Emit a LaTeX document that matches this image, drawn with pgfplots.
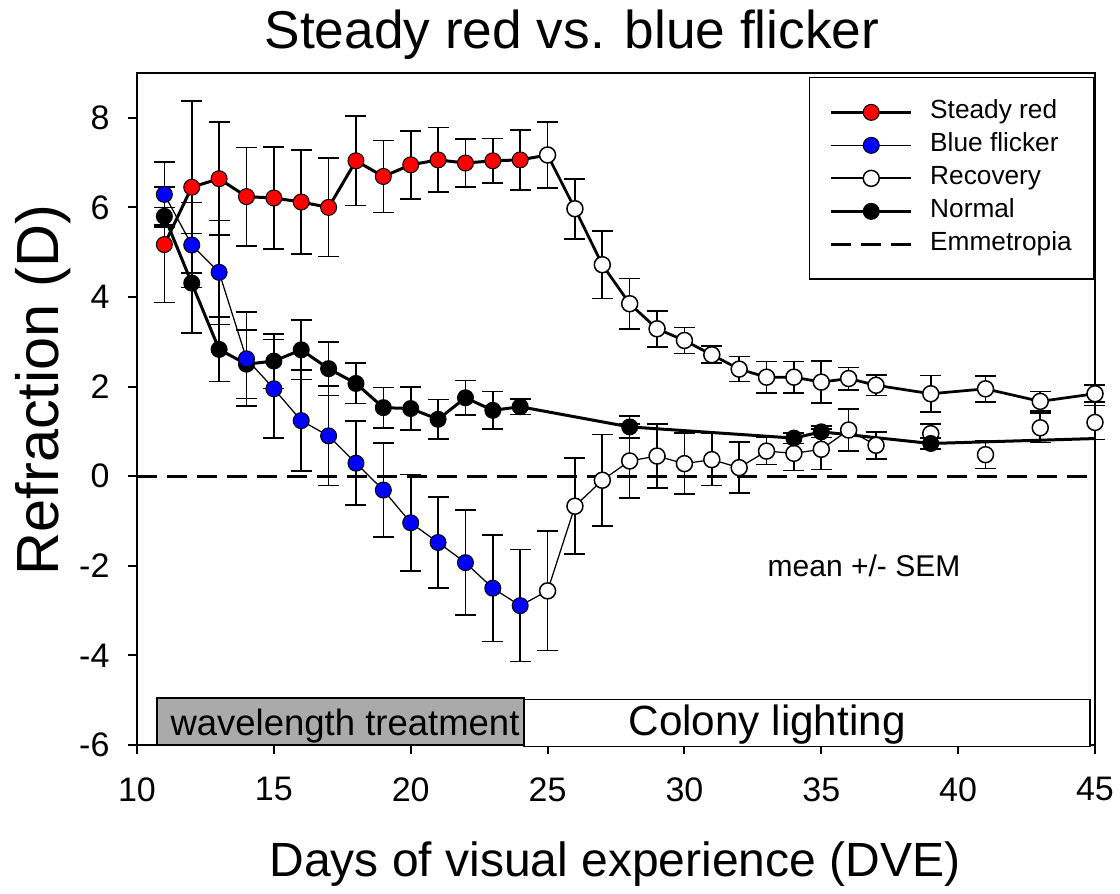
\documentclass[border=0pt]{standalone}
\usepackage{fontspec}
\setmainfont{Liberation Sans}
\usepackage{pgfplots}
\pgfplotsset{compat=1.18}
\definecolor{boxgray}{RGB}{170,170,170}
\pgfplotsset{
  eb/.style={error bars/.cd, y dir=both, y explicit, error mark=|,
    error bar style={line width=0.65pt, black, solid},
    error mark options={line width=0.65pt, black, mark size=4.2pt, solid}},
}
\begin{document}
\begin{tikzpicture}
\useasboundingbox (-54.8pt,-59.6pt) rectangle (393.2pt,298pt);
\begin{axis}[
  name=ax, at={(0,0)}, anchor=south west,
  scale only axis, width=383.2pt, height=268.8pt,
  xmin=10, xmax=45, ymin=-6, ymax=9,
  xtick={10,15,...,45}, ytick={-6,-4,...,8},
  tick align=outside, xtick pos=bottom, ytick pos=left,
  major tick length=3.6pt,
  tick style={line width=0.8pt, black},
  axis line style={line width=0.8pt},
  ticklabel style={font=\fontsize{13.6}{16}\selectfont},
  /pgf/number format/assume math mode=true,
  yticklabel style={xshift=-3.9pt},
  xticklabel style={yshift=-5.9pt},
  clip=false,
  legend cell align=left,
  legend style={at={(1,1)}, anchor=north east, yshift=-1.6pt,
    draw=black, line width=0.6pt,
    font=\fontsize{10.5}{12}\selectfont,
    inner xsep=8pt, inner ysep=8pt,
    row sep=1.5pt,
    nodes={inner sep=1pt, text height=7.5pt, text depth=2.2pt},
    /tikz/every odd column/.append style={column sep=6pt}},
  legend image code/.code={
    \draw[#1, mark repeat=2, mark phase=2] plot coordinates {(0pt,0pt) (16pt,0pt) (32pt,0pt)};
  },
]
% treatment boxes
\draw[fill=boxgray, draw=black, line width=0.5pt] (axis cs:10.73,-6) rectangle (axis cs:24.14,-4.95);
\draw[fill=white, draw=black, line width=0.5pt] (axis cs:24.14,-6.04) rectangle (axis cs:44.82,-4.99);
\node[anchor=base, font=\fontsize{14.6}{17}\selectfont] at (axis cs:17.6,-5.78) {wavelength treatment};
\node[anchor=base, font=\fontsize{16.9}{20}\selectfont] at (axis cs:33.02,-5.78) {Colony lighting};

% legend entries
\addlegendimage{black, line width=1.2pt, mark=*, mark size=3.2pt, mark options={solid, fill=red, draw=black, line width=0.4pt}}
\addlegendentry{Steady red}
\addlegendimage{black, line width=0.5pt, mark=*, mark size=3.2pt, mark options={solid, fill=blue, draw=black, line width=0.4pt}}
\addlegendentry{Blue flicker}
\addlegendimage{black, line width=0.9pt, mark=*, mark size=3.2pt, mark options={solid, fill=white, draw=black, line width=0.6pt}}
\addlegendentry{Recovery}
\addlegendimage{black, line width=1.2pt, mark=*, mark size=3.2pt, mark options={solid, fill=black, draw=black, line width=0.4pt}}
\addlegendentry{Normal}
\addlegendimage{black, line width=1.1pt, dash pattern=on 8pt off 4pt}
\addlegendentry{Emmetropia}

% emmetropia
\addplot[forget plot, black, line width=1.1pt, dash pattern=on 8pt off 4pt] coordinates {(10,0) (45,0)};

% connectors
\addplot[forget plot, black, line width=1.2pt] coordinates {(24,7.06) (25,7.17)};
\addplot[forget plot, black, line width=0.5pt] coordinates {(24,-2.89) (25,-2.56)};
\addplot[forget plot, black, line width=1.2pt] coordinates {(39,0.73) (45,0.84)};

% Recovery (after steady red)
\addplot[forget plot, black, line width=1.1pt, mark=*, mark size=3.2pt,
  mark options={solid, fill=white, draw=black, line width=0.6pt}, eb] coordinates {
(25,7.17) +- (0,0.74)
(26,5.97) +- (0,0.67)
(27,4.72) +- (0,0.75)
(28,3.85) +- (0,0.56)
(29,3.29) +- (0,0.40)
(30,3.03) +- (0,0.29)
(31,2.71) +- (0,0.19)
(32,2.39) +- (0,0.28)
(33,2.21) +- (0,0.35)
(34,2.21) +- (0,0.35)
(35,2.10) +- (0,0.47)
(36,2.18) +- (0,0.25)
(37,2.03) +- (0,0.23)
(39,1.84) +- (0,0.41)
(41,1.95) +- (0,0.29)
(43,1.67) +- (0,0.22)
(45,1.84) +- (0,0.19)
};

% Recovery (after blue flicker)
\addplot[forget plot, black, line width=0.5pt, mark=*, mark size=3.2pt,
  mark options={solid, fill=white, draw=black, line width=0.6pt}, eb] coordinates {
(25,-2.56) +- (0,1.33)
(26,-0.67) +- (0,1.07)
(27,-0.09) +- (0,1.02)
(28,0.34) +- (0,0.82)
(29,0.45) +- (0,0.72)
(30,0.28) +- (0,0.68)
(31,0.37) +- (0,0.58)
(32,0.19) +- (0,0.57)
(33,0.56) +- (0,0.30)
(34,0.51) +- (0,0.38)
(35,0.60) +- (0,0.45)
(36,1.03) +- (0,0.47)
(37,0.69) +- (0,0.30)
};
\addplot[forget plot, only marks, black, mark=*, mark size=3.2pt,
  mark options={solid, fill=white, draw=black, line width=0.6pt}, eb] coordinates {
(39,0.95) +- (0,0.22)
(41,0.48) +- (0,0.31)
(43,1.08) +- (0,0.33)
(45,1.20) +- (0,0.38)
};

% Normal
\addplot[forget plot, black, line width=1.2pt, mark=*, mark size=3.2pt,
  mark options={solid, fill=black, draw=black, line width=0.4pt}, eb] coordinates {
(11,5.80) +- (0,0.20)
(12,4.31) +- (0,1.11)
(13,2.83) +- (0,0.72)
(14,2.50) +- (0,0.77)
(15,2.57) +- (0,0.61)
(16,2.82) +- (0,0.66)
(17,2.40) +- (0,0.60)
(18,2.07) +- (0,0.45)
(19,1.53) +- (0,0.45)
(20,1.51) +- (0,0.48)
(21,1.27) +- (0,0.44)
(22,1.75) +- (0,0.39)
(23,1.47) +- (0,0.42)
(24,1.55) +- (0,0.17)
(28,1.10) +- (0,0.25)
(34,0.85) +- (0,0.12)
(35,0.99) +- (0,0.13)
(39,0.73) +- (0,0.12)
};

% Blue flicker
\addplot[forget plot, black, line width=0.5pt, mark=*, mark size=3.2pt,
  mark options={solid, fill=blue, draw=black, line width=0.4pt}, eb] coordinates {
(11,6.29) +- (0,0.73)
(12,5.16) +- (0,0.95)
(13,4.55) +- (0,1.16)
(14,2.62) +- (0,1.05)
(15,1.95) +- (0,1.10)
(16,1.24) +- (0,1.13)
(17,0.90) +- (0,1.11)
(18,0.29) +- (0,0.94)
(19,-0.31) +- (0,1.05)
(20,-1.04) +- (0,1.08)
(21,-1.48) +- (0,1.02)
(22,-1.93) +- (0,1.17)
(23,-2.50) +- (0,1.19)
(24,-2.89) +- (0,1.25)
};

% Steady red
\addplot[forget plot, black, line width=1.2pt, mark=*, mark size=3.2pt,
  mark options={solid, fill=red, draw=black, line width=0.4pt}, eb] coordinates {
(11,5.17) +- (0,1.29)
(12,6.45) +- (0,1.92)
(13,6.64) +- (0,1.26)
(14,6.24) +- (0,1.10)
(15,6.21) +- (0,1.14)
(16,6.12) +- (0,1.16)
(17,6.00) +- (0,1.10)
(18,7.04) +- (0,1.00)
(19,6.69) +- (0,0.80)
(20,6.95) +- (0,0.76)
(21,7.06) +- (0,0.72)
(22,6.99) +- (0,0.54)
(23,7.04) +- (0,0.50)
(24,7.06) +- (0,0.67)
};

% texts
\node[anchor=base, font=\fontsize{21.3}{25}\selectfont] at (rel axis cs:0.454,1.0357) {Steady red vs. blue flicker};
\node[anchor=base, rotate=90, font=\fontsize{23.8}{28}\selectfont] at (rel axis cs:-0.082,0.528) {Refraction (D)};
\node[anchor=base, font=\fontsize{19.2}{23}\selectfont] at (rel axis cs:0.499,-0.1964) {Days of visual experience (DVE)};
\node[anchor=base, font=\fontsize{12}{14}\selectfont] at (rel axis cs:0.7589,0.25) {mean +/- SEM};
\end{axis}
\end{tikzpicture}
\end{document}
